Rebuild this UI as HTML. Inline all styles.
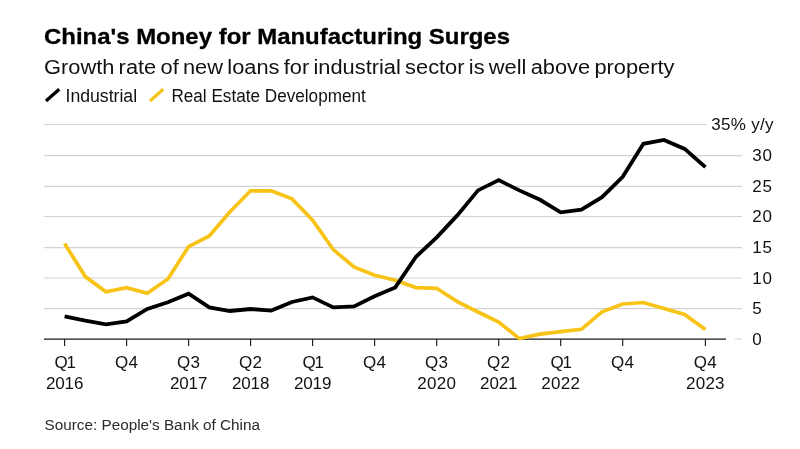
<!DOCTYPE html>
<html><head><meta charset="utf-8"><title>China's Money for Manufacturing Surges</title>
<style>
html,body{margin:0;padding:0;background:#fff;}
body{width:800px;height:449px;overflow:hidden;position:relative;font-family:"Liberation Sans",Arial,sans-serif;}
svg{position:absolute;left:0;top:0;display:block;}
svg text{font-family:"Liberation Sans",Arial,sans-serif;}
.title{font-size:22.5px;font-weight:700;fill:#000;stroke:#000;stroke-width:0.3px;}
.sub{font-size:19.5px;word-spacing:-1.6px;fill:#111;}
.leg{font-size:18px;fill:#111;}
.ax{font-size:17px;fill:#111;}
.yl{letter-spacing:0.7px;}
.xl{letter-spacing:0.25px;}
.src{font-size:15.3px;fill:#2a2a2a;}
</style></head><body>
<svg width="800" height="449" viewBox="0 0 800 449">
<rect width="800" height="449" fill="#fff"/>
<text class="title" x="44" y="43.6" textLength="466" lengthAdjust="spacingAndGlyphs">China's Money for Manufacturing Surges</text>
<text class="sub" x="44" y="73.5" textLength="630.5" lengthAdjust="spacingAndGlyphs">Growth rate of new loans for industrial sector is well above property</text>
<line x1="46.0" y1="101.0" x2="59.2" y2="89.2" stroke="#000" stroke-width="3.2"/>
<text class="leg" x="65.5" y="102" textLength="71.6" lengthAdjust="spacingAndGlyphs">Industrial</text>
<line x1="150.0" y1="101.0" x2="163.2" y2="89.2" stroke="#f8c317" stroke-width="3.2"/>
<text class="leg" x="171.4" y="102" textLength="194.4" lengthAdjust="spacingAndGlyphs">Real Estate Development</text>
<g stroke="#d3d3d7" stroke-width="1.1" fill="none"><line x1="44" y1="124.5" x2="707" y2="124.5"/><line x1="44" y1="155.6" x2="742" y2="155.6"/><line x1="44" y1="186.4" x2="742" y2="186.4"/><line x1="44" y1="216.5" x2="742" y2="216.5"/><line x1="44" y1="247.6" x2="742" y2="247.6"/><line x1="44" y1="278.0" x2="742" y2="278.0"/><line x1="44" y1="308.6" x2="742" y2="308.6"/><line x1="735" y1="339.0" x2="742" y2="339.0"/></g>
<g class="ax yl"><text x="773.8" y="130.1" text-anchor="end" style="letter-spacing:0.3px">35% y/y</text><text x="752.3" y="161.2">30</text><text x="752.3" y="192.0">25</text><text x="752.3" y="222.1">20</text><text x="752.3" y="253.2">15</text><text x="752.3" y="283.6">10</text><text x="752.3" y="314.2">5</text><text x="752.3" y="344.6">0</text></g>
<line x1="44" y1="339" x2="726" y2="339" stroke="#1a1a1a" stroke-width="1.25"/>
<g stroke="#1a1a1a" stroke-width="1.15"><line x1="64.6" y1="339" x2="64.6" y2="346"/><line x1="126.6" y1="339" x2="126.6" y2="346"/><line x1="188.6" y1="339" x2="188.6" y2="346"/><line x1="250.6" y1="339" x2="250.6" y2="346"/><line x1="312.6" y1="339" x2="312.6" y2="346"/><line x1="374.6" y1="339" x2="374.6" y2="346"/><line x1="436.7" y1="339" x2="436.7" y2="346"/><line x1="498.7" y1="339" x2="498.7" y2="346"/><line x1="560.7" y1="339" x2="560.7" y2="346"/><line x1="622.7" y1="339" x2="622.7" y2="346"/><line x1="705.4" y1="339" x2="705.4" y2="346"/></g>
<polyline points="64.6,243.6 85.3,276.6 105.9,291.7 126.6,287.6 147.3,293.2 167.9,279 188.6,246.7 209.3,236 230.0,211.7 250.6,190.8 271.3,190.8 292.0,198.9 312.6,220.2 333.3,249.6 354.0,267 374.6,275.3 395.3,280.2 416.0,287.6 436.7,288.3 457.3,301.6 478.0,312 498.7,322 519.3,338.6 540.0,334.2 560.7,331.7 581.4,329.3 602.0,311.8 622.7,304 643.4,302.5 664.0,308.5 684.7,314.5 705.4,329.5" fill="none" stroke="#f8c317" stroke-width="3.7" stroke-linejoin="miter" stroke-linecap="butt"/>
<polyline points="64.6,316.3 85.3,320.7 105.9,324.3 126.6,321.4 147.3,308.9 167.9,302.3 188.6,293.7 209.3,307.4 230.0,311 250.6,309 271.3,310.6 292.0,302 312.6,297.4 333.3,307.4 354.0,306.4 374.6,296.2 395.3,287.4 416.0,256.8 436.7,237.3 457.3,215.4 478.0,190.4 498.7,180.1 519.3,190.4 540.0,199.8 560.7,212.4 581.4,209.7 602.0,197.2 622.7,176.8 643.4,143.8 664.0,139.9 684.7,148.9 705.4,167.2" fill="none" stroke="#000" stroke-width="3.8" stroke-linejoin="miter" stroke-linecap="butt"/>
<g class="ax xl" text-anchor="middle"><text x="64.6" y="368" style="letter-spacing:-1.2px">Q1</text><text x="64.6" y="388.5" style="letter-spacing:-0.15px">2016</text><text x="126.6" y="368">Q4</text><text x="188.6" y="368">Q3</text><text x="188.6" y="388.5" style="letter-spacing:-0.15px">2017</text><text x="250.6" y="368">Q2</text><text x="250.6" y="388.5" style="letter-spacing:-0.15px">2018</text><text x="312.6" y="368" style="letter-spacing:-1.2px">Q1</text><text x="312.6" y="388.5" style="letter-spacing:-0.15px">2019</text><text x="374.6" y="368">Q4</text><text x="436.7" y="368">Q3</text><text x="436.7" y="388.5">2020</text><text x="498.7" y="368">Q2</text><text x="498.7" y="388.5" style="letter-spacing:-0.15px">2021</text><text x="560.7" y="368" style="letter-spacing:-1.2px">Q1</text><text x="560.7" y="388.5">2022</text><text x="622.7" y="368">Q4</text><text x="705.4" y="368">Q4</text><text x="705.4" y="388.5">2023</text></g>
<text class="src" x="44.5" y="430.4">Source: People's Bank of China</text>
</svg>
</body></html>
